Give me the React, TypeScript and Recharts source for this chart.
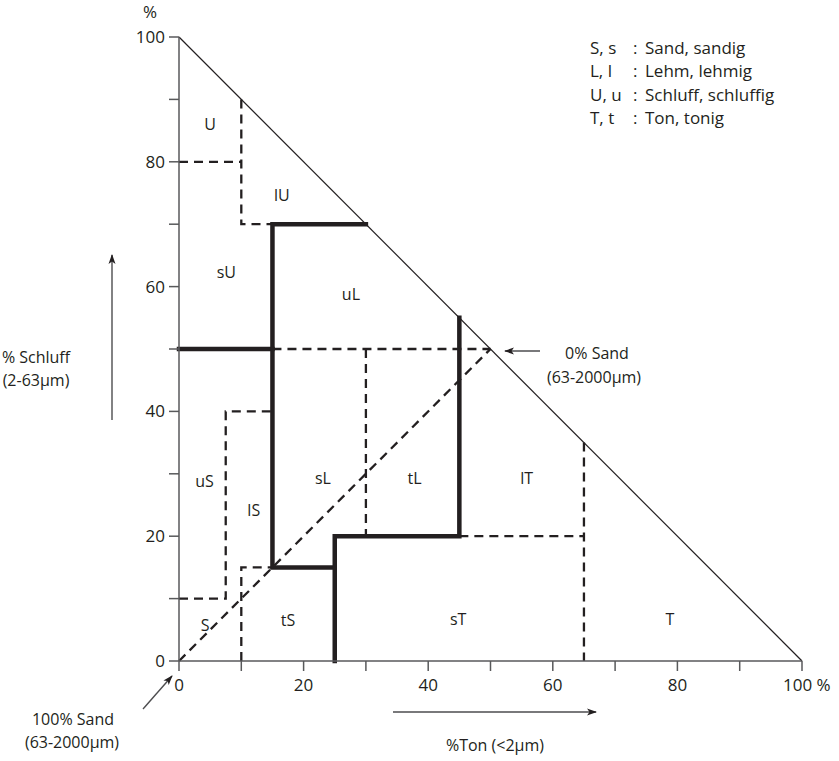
import { ComposedChart, Line, Scatter, XAxis, YAxis } from 'recharts';

// axis ticks (every 10 %, labelled every 20 %)
const axisTicks = [0, 10, 20, 30, 40, 50, 60, 70, 80, 90, 100];

// outline of the triangle: 0 % sand line
const hypotenuse = [{ x: 0, y: 100 }, { x: 100, y: 0 }];
const sandDiagonal = [{ x: 0, y: 0 }, { x: 50, y: 50 }];

// main group borders (thick)
const thickLoam = [{ x: 0, y: 50 }, { x: 15, y: 50 }];
const thickUpper = [{ x: 30, y: 70 }, { x: 15, y: 70 }, { x: 15, y: 15 }, { x: 25, y: 15 }];
const thickLower = [{ x: 25, y: 0 }, { x: 25, y: 20 }, { x: 45, y: 20 }, { x: 45, y: 55 }];

// sub class borders (dashed)
const dashU = [{ x: 0, y: 80 }, { x: 10, y: 80 }];
const dashLU = [{ x: 10, y: 90 }, { x: 10, y: 70 }, { x: 15, y: 70 }];
const dash50 = [{ x: 15, y: 50 }, { x: 50, y: 50 }];
const dash30 = [{ x: 30, y: 50 }, { x: 30, y: 20 }];
const dashLT = [{ x: 45, y: 20 }, { x: 65, y: 20 }];
const dash65 = [{ x: 65, y: 35 }, { x: 65, y: 0 }];
const dashUS = [{ x: 0, y: 10 }, { x: 7.5, y: 10 }, { x: 7.5, y: 40 }, { x: 15, y: 40 }];
const dashTS = [{ x: 10, y: 0 }, { x: 10, y: 15 }, { x: 15, y: 15 }];

const thickLines = [thickLoam, thickUpper, thickLower];
const dashedLines = [sandDiagonal, dashU, dashLU, dash50, dash30, dashLT, dash65, dashUS, dashTS];

const classLabels = [
  { x: 5, y: 86, name: 'U' },
  { x: 16.5, y: 74.7, name: 'lU' },
  { x: 7.6, y: 62.3, name: 'sU' },
  { x: 27.6, y: 58.8, name: 'uL' },
  { x: 4.1, y: 28.8, name: 'uS' },
  { x: 12, y: 24.2, name: 'lS' },
  { x: 23.1, y: 29.3, name: 'sL' },
  { x: 37.8, y: 29.3, name: 'tL' },
  { x: 55.8, y: 29.3, name: 'lT' },
  { x: 4.2, y: 5.8, name: 'S' },
  { x: 17.5, y: 6.6, name: 'tS' },
  { x: 44.8, y: 6.8, name: 'sT' },
  { x: 78.8, y: 6.8, name: 'T' },
];

const legendKeys = ['S, s', 'L, l', 'U, u', 'T, t'];
const legendNames = ['Sand, sandig', 'Lehm, lehmig', 'Schluff, schluffig', 'Ton, tonig'];

const FONT = '"Open Sans", sans-serif';
const INK = '#231f20';

function renderClassLabel(props: any) {
  return (
    <text x={props.cx} y={props.cy} textAnchor="middle" dominantBaseline="central" fontSize={16} fill={INK} fontFamily={FONT}>
      {props.payload.name}
    </text>
  );
}

function XTick(props: any) {
  const { x, y, payload } = props;
  const v = payload.value;
  if (v % 20 !== 0) return <g />;
  if (v === 100) {
    return (
      <text x={x - 19} y={y} dy="0.71em" textAnchor="start" fontSize={17} fill={INK} fontFamily={FONT}>
        100 %
      </text>
    );
  }
  return (
    <text x={x} y={y} dy="0.71em" textAnchor="middle" fontSize={17} fill={INK} fontFamily={FONT}>
      {v}
    </text>
  );
}

function YTick(props: any) {
  const { x, y, payload } = props;
  const v = payload.value;
  if (v % 20 !== 0) return <g />;
  return (
    <text x={x} y={y} dy="0.355em" textAnchor="end" fontSize={17} fill={INK} fontFamily={FONT}>
      {v}
    </text>
  );
}

export default function App() {
  return (
    <div style={{ position: 'absolute', left: 0, top: 0, width: 839, height: 761, background: '#fff' }}>
      <ComposedChart width={839} height={761} margin={{ top: 37, right: 37, bottom: 70, left: 129 }}>
        <XAxis
          dataKey="x"
          type="number"
          domain={[0, 100]}
          ticks={axisTicks}
          tickSize={10}
          tickMargin={8}
          height={30}
          stroke="#58595b"
          strokeWidth={1.5}
          tick={<XTick />}
          allowDuplicatedCategory={false}
        />
        <YAxis
          dataKey="y"
          type="number"
          domain={[0, 100]}
          ticks={axisTicks}
          tickSize={10}
          tickMargin={4}
          width={50}
          stroke="#58595b"
          strokeWidth={1.5}
          tick={<YTick />}
        />
        <Line data={hypotenuse} dataKey="y" type="linear" dot={false} stroke={INK} strokeWidth={1.2} isAnimationActive={false} />
        {dashedLines.map((seg, i) => (
          <Line
            key={`d-${i}`}
            data={seg}
            dataKey="y"
            type="linear"
            dot={false}
            stroke={INK}
            strokeWidth={2.3}
            strokeDasharray="9 6"
            isAnimationActive={false}
          />
        ))}
        {thickLines.map((seg, i) => (
          <Line
            key={`t-${i}`}
            data={seg}
            dataKey="y"
            type="linear"
            dot={false}
            stroke={INK}
            strokeWidth={4.5}
            strokeLinecap="square"
            isAnimationActive={false}
          />
        ))}
        <Scatter data={classLabels} dataKey="y" shape={renderClassLabel} isAnimationActive={false} />
      </ComposedChart>

      {/* annotations */}
      <svg width={839} height={761} style={{ position: 'absolute', left: 0, top: 0, pointerEvents: 'none' }}>
        <defs>
          <marker id="ah" viewBox="0 0 10 10" refX="9" refY="5" markerWidth="10" markerHeight="10" orient="auto-start-reverse" markerUnits="userSpaceOnUse">
            <path d="M0,1.5 L10,5 L0,8.5 L2.5,5 z" fill={INK} />
          </marker>
        </defs>
        <g fontFamily={FONT} fontSize={16} fill={INK}>
          <text x={150} y={18} textAnchor="middle" fontSize={17}>%</text>
          <text x={36} y={363} textAnchor="middle">% Schluff</text>
          <text x={36} y={386} textAnchor="middle">(2-63µm)</text>
          <text x={597} y={359} textAnchor="middle">0% Sand</text>
          <text x={594} y={383} textAnchor="middle">(63-2000µm)</text>
          <text x={73} y={725} textAnchor="middle">100% Sand</text>
          <text x={72} y={748} textAnchor="middle">(63-2000µm)</text>
          <text x={495} y={751} textAnchor="middle">%Ton (&lt;2µm)</text>
          {legendKeys.map((k, i) => (
            <g key={k} fontSize={17}>
              <text x={590} y={54 + i * 23.3}>{k}</text>
              <text x={633} y={54 + i * 23.3}>:</text>
              <text x={645} y={54 + i * 23.3}>{legendNames[i]}</text>
            </g>
          ))}
        </g>
        <g stroke="#4d4d4f" strokeWidth={1.4} fill="none">
          <line x1={112} y1={420} x2={112} y2={255} markerEnd="url(#ah)" />
          <line x1={540} y1={351} x2={505} y2={351} markerEnd="url(#ah)" />
          <line x1={143} y1={709} x2={172} y2={676} markerEnd="url(#ah)" />
          <line x1={393} y1={712} x2={596} y2={712} markerEnd="url(#ah)" />
        </g>
      </svg>
    </div>
  );
}
